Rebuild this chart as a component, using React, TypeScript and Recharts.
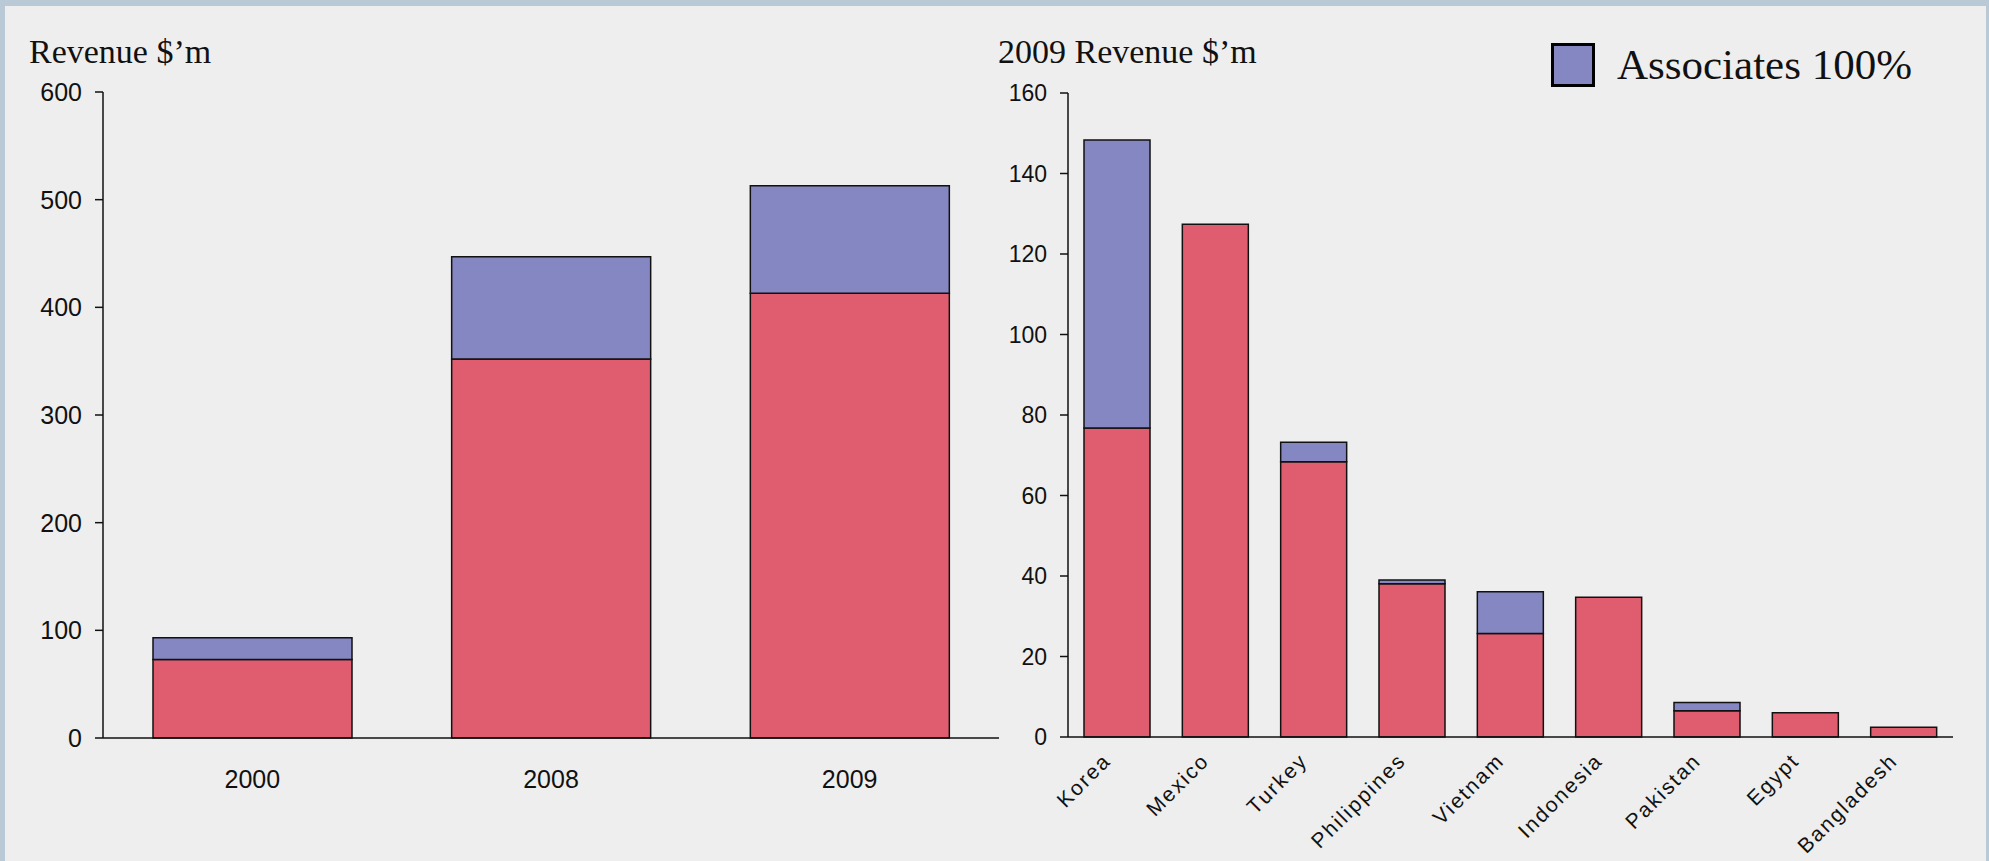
import React from 'react';
import { Bar, BarChart, XAxis, YAxis } from 'recharts';

// left panel: group revenue by year
const years = ['2000', '2008', '2009'];
const subsidiaryRevenue = [73, 352, 413];
const associateRevenue = [20, 95, 100];
const yearTicks = [0, 100, 200, 300, 400, 500, 600];

// right panel: 2009 revenue by country
const countries = ['Korea', 'Mexico', 'Turkey', 'Philippines', 'Vietnam', 'Indonesia', 'Pakistan', 'Egypt', 'Bangladesh'];
const countrySubsidiary = [76.8, 127.4, 68.4, 38.1, 25.7, 34.7, 6.5, 6.0, 2.4];
const countryAssociate = [71.5, 0, 4.8, 0.9, 10.4, 0, 2.1, 0, 0];
const countryTicks = [0, 20, 40, 60, 80, 100, 120, 140, 160];

const legendLabel = 'Associates 100%';

const RED = '#E05D6F';
const PURPLE = '#8587C2';
const SANS = '"Liberation Sans", Arial, sans-serif';
const SERIF = '"Liberation Serif", "Times New Roman", serif';

const yearData = years.map((year, i) => ({
  year,
  subsidiaries: subsidiaryRevenue[i],
  associates: associateRevenue[i],
}));

const countryData = countries.map((country, i) => ({
  country,
  subsidiaries: countrySubsidiary[i],
  associates: countryAssociate[i],
}));

function YearTick(props: any) {
  const { x, y, payload } = props;
  return (
    <text x={x} y={y} textAnchor="middle" fontFamily={SANS} fontSize={25} fill="#111">
      {payload.value}
    </text>
  );
}

function CountryTick(props: any) {
  const { x, y, payload } = props;
  const ax = x - 5;
  return (
    <text
      x={ax}
      y={y}
      transform={`rotate(-45, ${ax}, ${y})`}
      textAnchor="end"
      fontFamily={SANS}
      fontSize={21}
      letterSpacing={2}
      fill="#111"
    >
      {payload.value}
    </text>
  );
}

const titleStyle: React.CSSProperties = {
  position: 'absolute',
  top: 35,
  fontFamily: SERIF,
  fontSize: 34,
  lineHeight: '34px',
  color: '#111',
  whiteSpace: 'nowrap',
};

export default function App() {
  return (
    <div style={{ position: 'absolute', left: 0, top: 0, width: 1989, height: 861, background: '#b9c9d6', overflow: 'hidden' }}>
      <div style={{ position: 'absolute', left: 5, top: 6, width: 1981, height: 855, background: '#eeeeee' }} />

      <div style={{ ...titleStyle, left: 29 }}>Revenue $’m</div>
      <div style={{ ...titleStyle, left: 998 }}>2009 Revenue $’m</div>

      {/* legend: only the associates series is keyed */}
      <div style={{ position: 'absolute', left: 1551, top: 43, display: 'flex', alignItems: 'center' }}>
        <span
          style={{
            width: 44,
            height: 44,
            boxSizing: 'border-box',
            border: '3px solid #000',
            background: PURPLE,
            display: 'inline-block',
          }}
        />
        <span style={{ marginLeft: 22, fontFamily: SERIF, fontSize: 43, color: '#111', lineHeight: '44px', whiteSpace: 'nowrap' }}>
          {legendLabel}
        </span>
      </div>

      <div style={{ position: 'absolute', left: 0, top: 0 }}>
        <BarChart width={1030} height={861} data={yearData} margin={{ top: 92, right: 31, bottom: 73, left: 0 }}>
          <XAxis
            dataKey="year"
            height={50}
            axisLine={{ stroke: '#111', strokeWidth: 1.5 }}
            tickLine={false}
            tickSize={0}
            tickMargin={50}
            tick={<YearTick />}
          />
          <YAxis
            width={103}
            domain={[0, 600]}
            ticks={yearTicks}
            axisLine={{ stroke: '#111', strokeWidth: 1.5 }}
            tickLine={{ stroke: '#111', strokeWidth: 1.5 }}
            tickSize={8}
            tickMargin={13}
            tick={{ fill: '#111', fontSize: 25, fontFamily: SANS }}
          />
          <Bar dataKey="subsidiaries" stackId="a" fill={RED} stroke="#111" strokeWidth={1.5} barSize={199} isAnimationActive={false} />
          <Bar dataKey="associates" stackId="a" fill={PURPLE} stroke="#111" strokeWidth={1.5} barSize={199} isAnimationActive={false} />
        </BarChart>
      </div>

      <div style={{ position: 'absolute', left: 960, top: 0 }}>
        <BarChart width={1029} height={861} data={countryData} margin={{ top: 93, right: 36, bottom: 74, left: 0 }}>
          <XAxis
            dataKey="country"
            height={50}
            interval={0}
            axisLine={{ stroke: '#111', strokeWidth: 1.5 }}
            tickLine={false}
            tickSize={0}
            tickMargin={25}
            tick={<CountryTick />}
          />
          <YAxis
            width={108}
            domain={[0, 160]}
            ticks={countryTicks}
            axisLine={{ stroke: '#111', strokeWidth: 1.5 }}
            tickLine={{ stroke: '#111', strokeWidth: 1.5 }}
            tickSize={8}
            tickMargin={13}
            tick={{ fill: '#111', fontSize: 23, fontFamily: SANS }}
          />
          <Bar dataKey="subsidiaries" stackId="a" fill={RED} stroke="#111" strokeWidth={1.5} barSize={66} isAnimationActive={false} />
          <Bar dataKey="associates" name={legendLabel} stackId="a" fill={PURPLE} stroke="#111" strokeWidth={1.5} barSize={66} isAnimationActive={false} />
        </BarChart>
      </div>
    </div>
  );
}
